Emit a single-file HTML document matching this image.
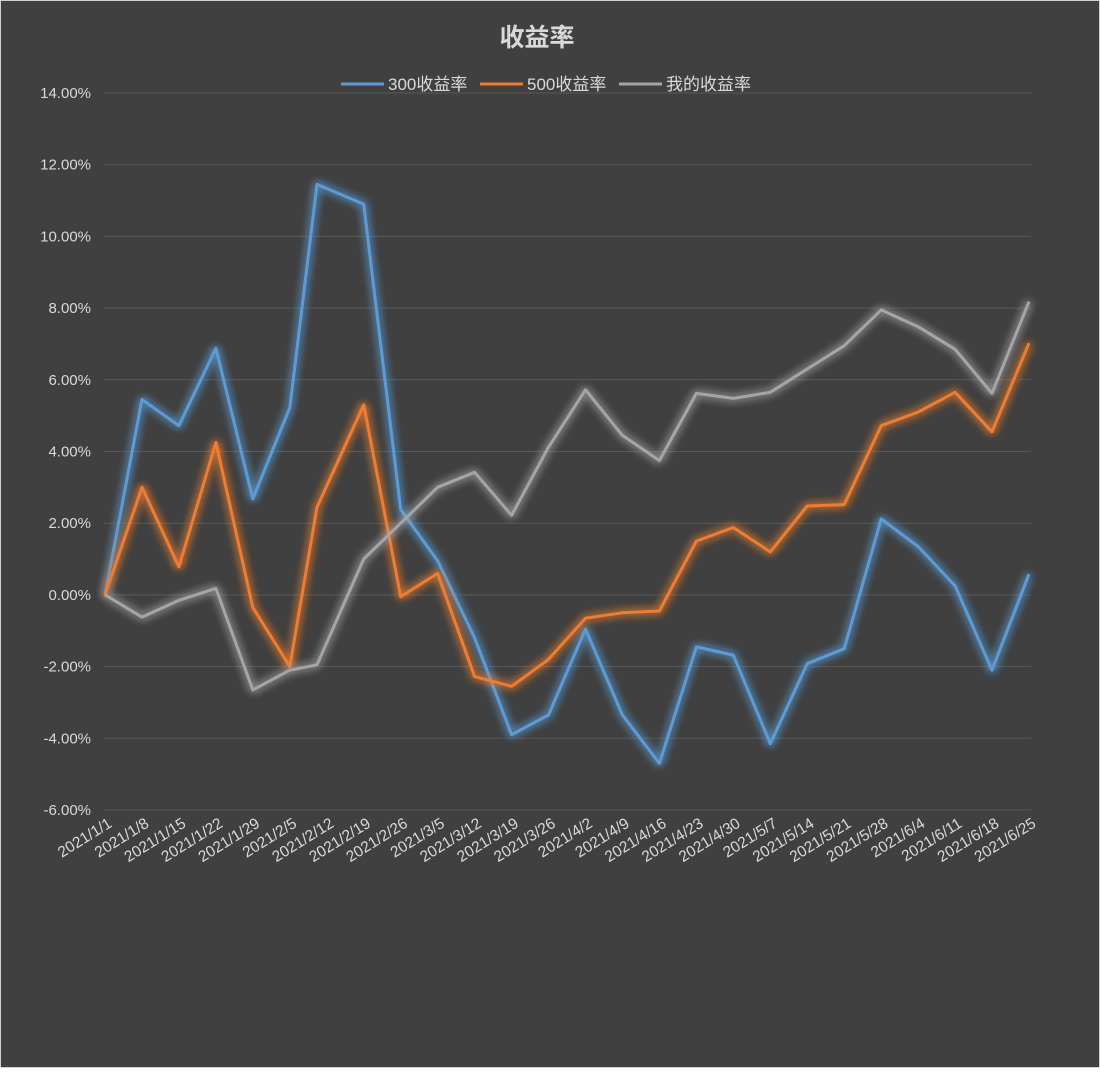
<!DOCTYPE html>
<html><head><meta charset="utf-8"><style>
html,body{margin:0;padding:0;background:#fff;}
#c{width:1098px;height:1066px;border:1px solid #d0d0d0;background:#404040;position:relative;}
svg text{font-family:"Liberation Sans","Noto Sans CJK SC",sans-serif;fill:#d9d9d9;}
</style></head><body><div id="c">
<svg id="s" width="1098" height="1066" xmlns="http://www.w3.org/2000/svg">
<defs>
<filter id="g" x="-10%" y="-10%" width="120%" height="120%"><feGaussianBlur stdDeviation="4.5" result="b"/><feMerge><feMergeNode in="b"/><feMergeNode in="b"/><feMergeNode in="SourceGraphic"/></feMerge></filter>
</defs>
<text x="536" y="45" font-size="25" font-weight="bold" text-anchor="middle">收益率</text>
<line x1="340" y1="83" x2="383" y2="83" stroke="#5b9bd5" stroke-width="3"/>
<text x="387" y="89" font-size="17">300收益率</text>
<line x1="479" y1="83" x2="522" y2="83" stroke="#ed7d31" stroke-width="3"/>
<text x="526" y="89" font-size="17">500收益率</text>
<line x1="618" y1="83" x2="661" y2="83" stroke="#a5a5a5" stroke-width="3"/>
<text x="665" y="89" font-size="17">我的收益率</text>
<g id="grid"></g><g id="lines"></g>
</svg>
<script>
var s=document.getElementById('grid'),L=document.getElementById('lines');
function Y(v){return 593.9-35.85*v;}function X(i){return i==6?316:104+i*36.96;}
var h='';
for(var v=14;v>=-6;v-=2){var y=Y(v);h+='<line x1="103" x2="1030" y1="'+y+'" y2="'+y+'" stroke="#595959" stroke-width="1"/>';
h+='<text x="90" y="'+(y+5)+'" font-size="15" text-anchor="end">'+v.toFixed(2)+'%</text>';}
var d=['1/1','1/8','1/15','1/22','1/29','2/5','2/12','2/19','2/26','3/5','3/12','3/19','3/26','4/2','4/9','4/16','4/23','4/30','5/7','5/14','5/21','5/28','6/4','6/11','6/18','6/25'];
for(var i=0;i<26;i++){h+='<text font-size="15.5" text-anchor="end" transform="translate('+(104+i*36.96+8)+',825) rotate(-32)">2021/'+d[i]+'</text>';}
s.innerHTML=h;
var A=[0,5.45,4.72,6.88,2.68,5.22,11.45,10.9,2.38,0.95,-1.2,-3.9,-3.35,-0.95,-3.35,-4.7,-1.45,-1.68,-4.15,-1.92,-1.5,2.12,1.35,0.25,-2.1,0.58];
var B=[0,3.0,0.78,4.25,-0.35,-2.0,2.45,5.3,-0.05,0.6,-2.28,-2.55,-1.8,-0.65,-0.5,-0.45,1.5,1.88,1.2,2.48,2.52,4.72,5.1,5.65,4.55,7.02];
var C=[0,-0.62,-0.15,0.18,-2.65,-2.1,-1.95,1.0,2.0,3.0,3.42,2.22,4.12,5.72,4.45,3.75,5.62,5.48,5.65,6.3,6.95,7.95,7.48,6.85,5.62,8.18];
var o='';[[A,'#5b9bd5'],[B,'#ed7d31'],[C,'#a5a5a5']].forEach(function(p){var pts=p[0].map(function(v,i){return X(i).toFixed(1)+','+Y(v).toFixed(1)}).join(' ');
o+='<polyline points="'+pts+'" fill="none" stroke="'+p[1]+'" stroke-width="3" stroke-linejoin="round" filter="url(#g)"/>';});
L.innerHTML=o;
</script>
</div></body></html>
